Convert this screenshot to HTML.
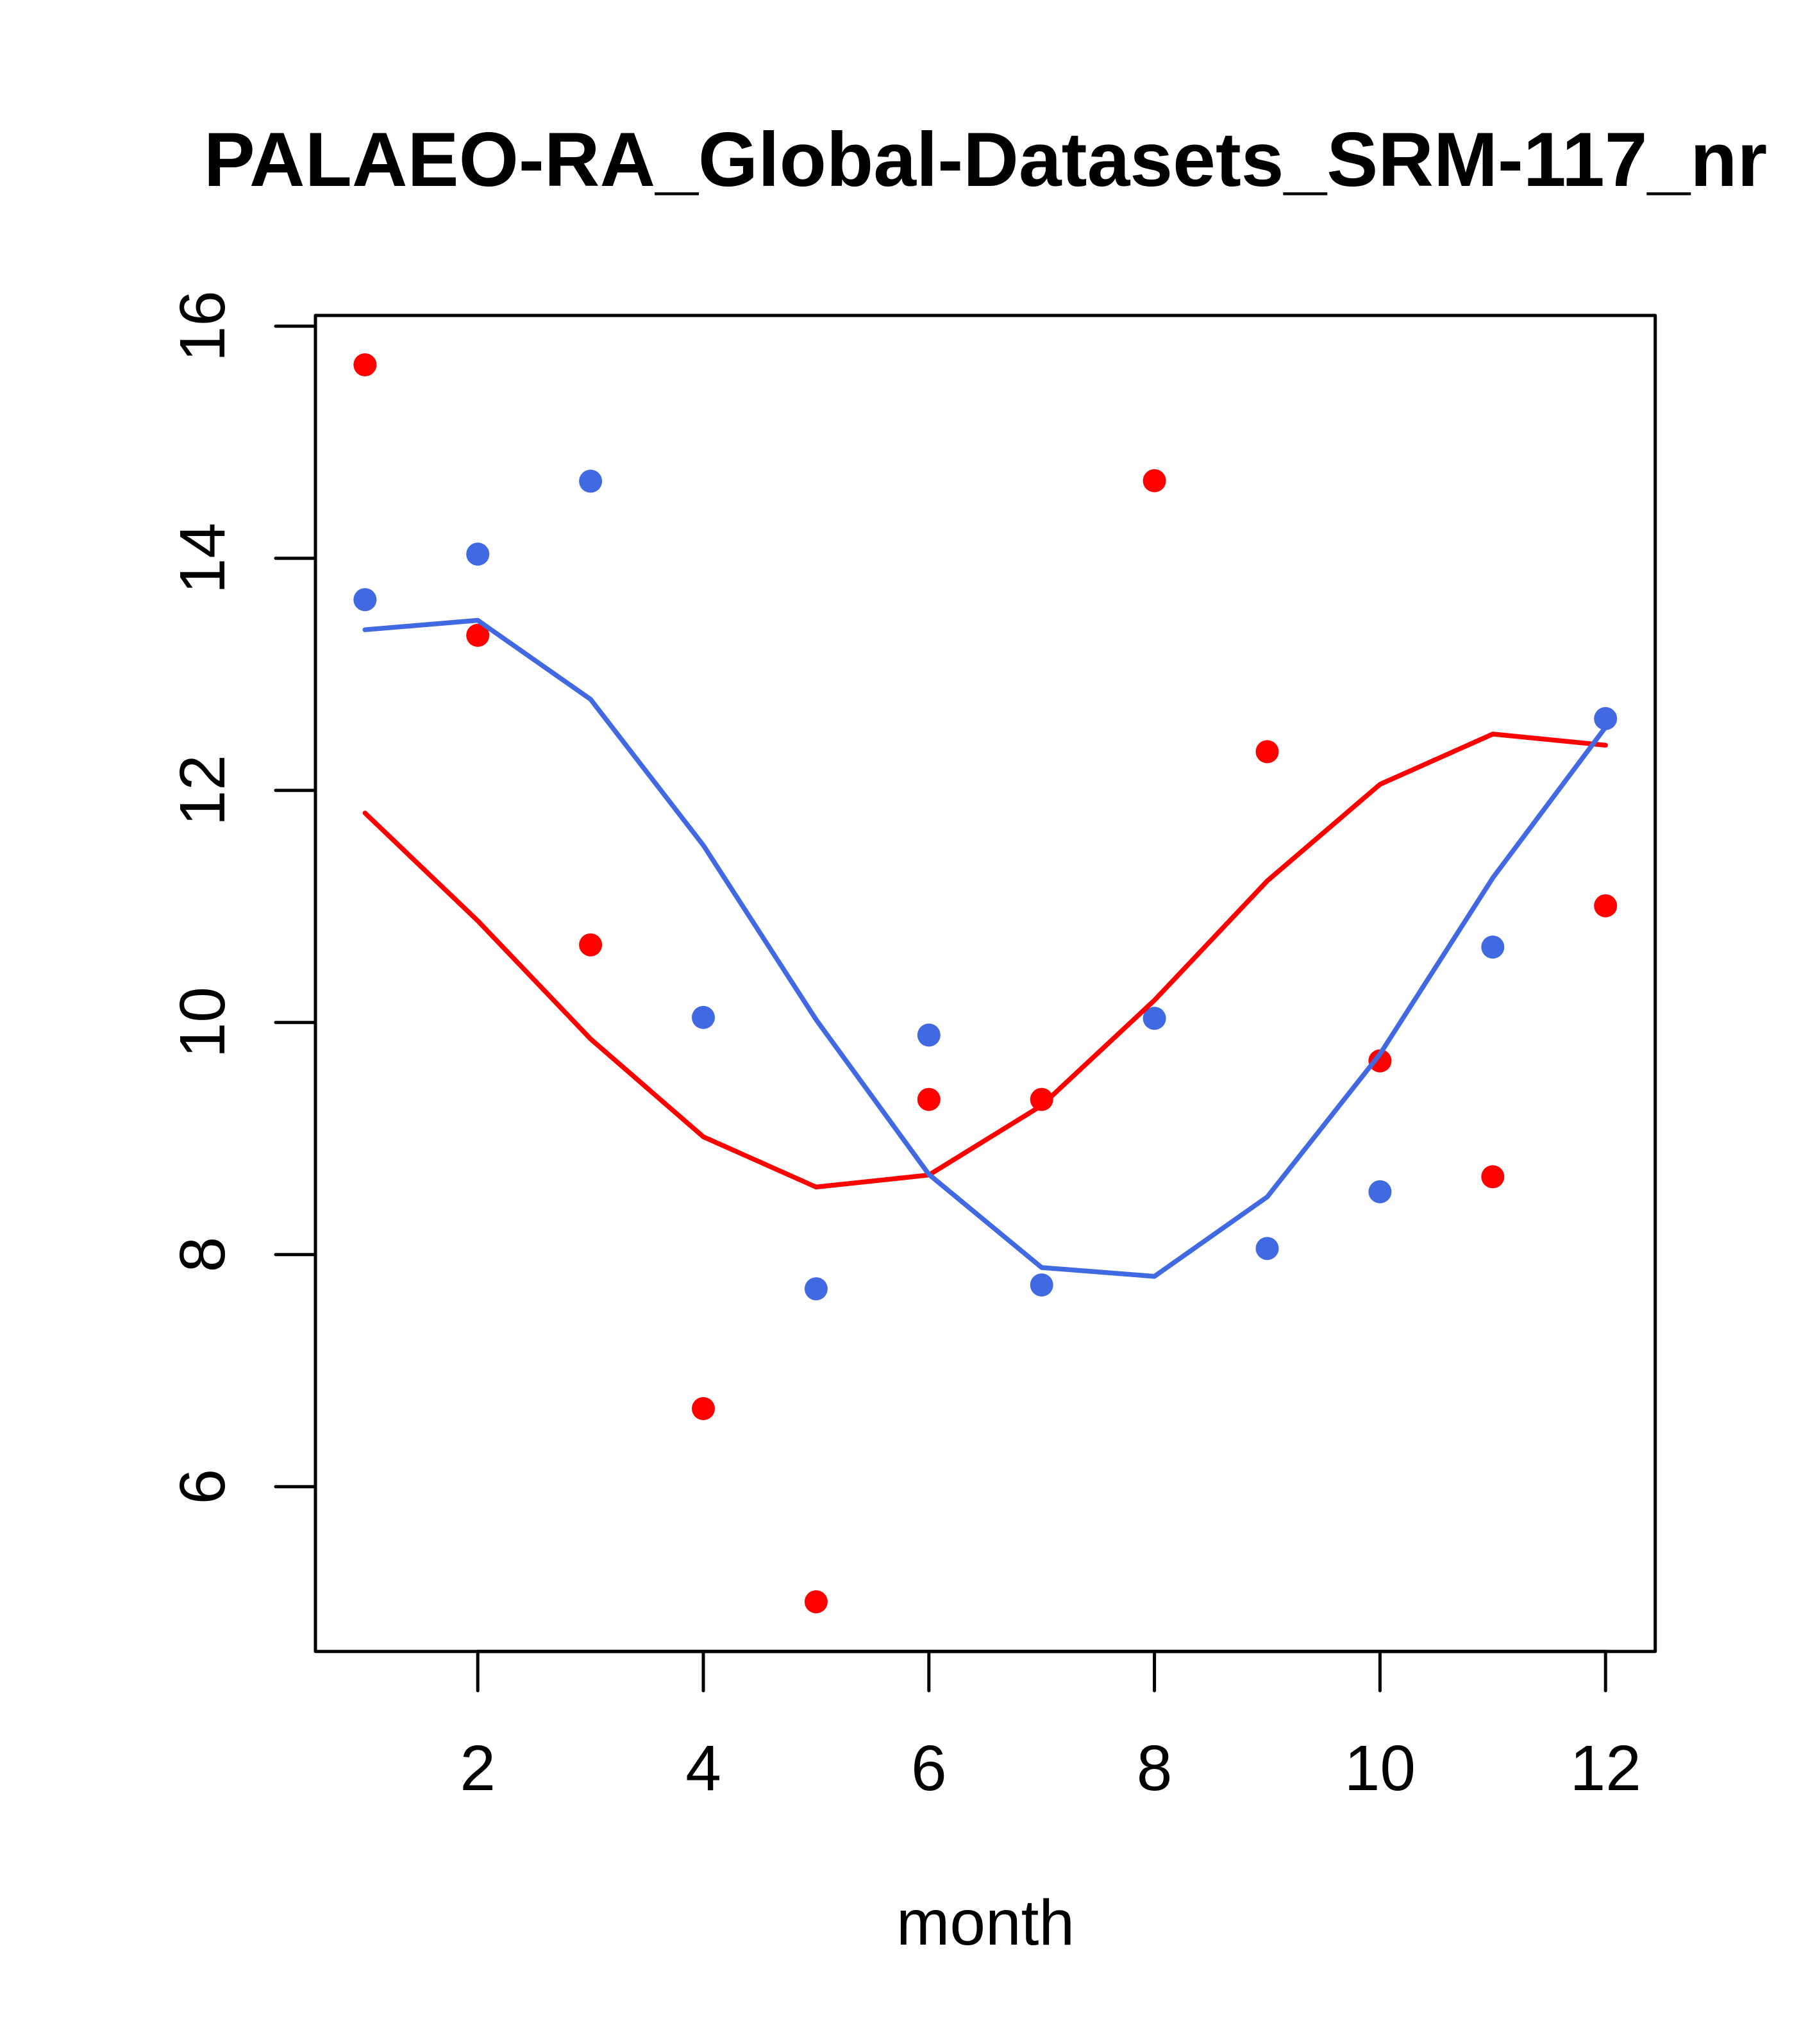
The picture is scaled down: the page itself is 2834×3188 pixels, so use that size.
<!DOCTYPE html>
<html>
<head>
<meta charset="utf-8">
<style>
  html, body { margin: 0; padding: 0; background: #ffffff; }
  svg { display: block; }
  text { font-family: "Liberation Sans", Arial, Helvetica, sans-serif; fill: #000; }
</style>
</head>
<body>
<svg width="2834" height="3188" viewBox="0 0 2834 3188" xmlns="http://www.w3.org/2000/svg">
  <rect x="0" y="0" width="2834" height="3188" fill="#ffffff"/>

  <!-- Title -->
  <text x="1537" y="290" font-size="120" font-weight="bold" text-anchor="middle">PALAEO-RA_Global-Datasets_SRM-117_nr</text>

  <!-- Plot box -->
  <rect x="492" y="492" width="2089.7" height="2083.7" fill="none" stroke="#000" stroke-width="5" stroke-linejoin="round"/>

  <!-- Y axis ticks -->
  <g stroke="#000" stroke-width="5" stroke-linecap="round" fill="none">
    <line x1="492" y1="508.7" x2="492" y2="2318.7"/>
    <line x1="430" y1="508.7" x2="492" y2="508.7"/>
    <line x1="430" y1="870.7" x2="492" y2="870.7"/>
    <line x1="430" y1="1232.7" x2="492" y2="1232.7"/>
    <line x1="430" y1="1594.7" x2="492" y2="1594.7"/>
    <line x1="430" y1="1956.7" x2="492" y2="1956.7"/>
    <line x1="430" y1="2318.7" x2="492" y2="2318.7"/>
  </g>
  <!-- X axis ticks -->
  <g stroke="#000" stroke-width="5" stroke-linecap="round" fill="none">
    <line x1="745.2" y1="2575.7" x2="2504.2" y2="2575.7"/>
    <line x1="745.2" y1="2575.7" x2="745.2" y2="2637"/>
    <line x1="1097.0" y1="2575.7" x2="1097.0" y2="2637"/>
    <line x1="1448.8" y1="2575.7" x2="1448.8" y2="2637"/>
    <line x1="1800.6" y1="2575.7" x2="1800.6" y2="2637"/>
    <line x1="2152.4" y1="2575.7" x2="2152.4" y2="2637"/>
    <line x1="2504.2" y1="2575.7" x2="2504.2" y2="2637"/>
  </g>

  <!-- Y tick labels -->
  <g font-size="100" text-anchor="middle">
    <text transform="translate(350,508.7) rotate(-90)">16</text>
    <text transform="translate(350,870.7) rotate(-90)">14</text>
    <text transform="translate(350,1232.7) rotate(-90)">12</text>
    <text transform="translate(350,1594.7) rotate(-90)">10</text>
    <text transform="translate(350,1956.7) rotate(-90)">8</text>
    <text transform="translate(350,2318.7) rotate(-90)">6</text>
  </g>

  <!-- X tick labels -->
  <g font-size="100" text-anchor="middle">
    <text x="745.2" y="2792">2</text>
    <text x="1097.0" y="2792">4</text>
    <text x="1448.8" y="2792">6</text>
    <text x="1800.6" y="2792">8</text>
    <text x="2152.4" y="2792">10</text>
    <text x="2504.2" y="2792">12</text>
  </g>

  <!-- X axis title -->
  <text x="1537" y="3033" font-size="100" text-anchor="middle">month</text>

  <!-- Red points -->
  <g fill="#ff0000">
    <circle cx="569.3" cy="569.0" r="18"/>
    <circle cx="745.2" cy="990.9" r="18"/>
    <circle cx="921.1" cy="1473.7" r="18"/>
    <circle cx="1097.0" cy="2197.0" r="18"/>
    <circle cx="1272.9" cy="2498.3" r="18"/>
    <circle cx="1448.8" cy="1714.8" r="18"/>
    <circle cx="1624.7" cy="1714.8" r="18"/>
    <circle cx="1800.6" cy="749.8" r="18"/>
    <circle cx="1976.5" cy="1172.4" r="18"/>
    <circle cx="2152.4" cy="1654.6" r="18"/>
    <circle cx="2328.3" cy="1835.4" r="18"/>
    <circle cx="2504.2" cy="1412.8" r="18"/>
  </g>

  <!-- Blue points -->
  <g fill="#4169e1">
    <circle cx="569.3" cy="935.3" r="18"/>
    <circle cx="745.2" cy="864.3" r="18"/>
    <circle cx="921.1" cy="750.5" r="18"/>
    <circle cx="1097.0" cy="1586.9" r="18"/>
    <circle cx="1272.9" cy="2010.1" r="18"/>
    <circle cx="1448.8" cy="1614.4" r="18"/>
    <circle cx="1624.7" cy="2004.1" r="18"/>
    <circle cx="1800.6" cy="1588.3" r="18"/>
    <circle cx="1976.5" cy="1947.2" r="18"/>
    <circle cx="2152.4" cy="1858.8" r="18"/>
    <circle cx="2328.3" cy="1477.1" r="18"/>
    <circle cx="2504.2" cy="1120.8" r="18"/>
  </g>

  <!-- Red line -->
  <polyline fill="none" stroke="#ff0000" stroke-width="7.5" stroke-linecap="round" stroke-linejoin="round"
    points="569.3,1268.1 745.2,1436.2 921.1,1620.4 1097.0,1773.1 1272.9,1851.4 1448.8,1832.7 1624.7,1724.2 1800.6,1560.1 1976.5,1374.0 2152.4,1223.3 2328.3,1144.9 2504.2,1162.3"/>

  <!-- Blue line -->
  <polyline fill="none" stroke="#4169e1" stroke-width="7.5" stroke-linecap="round" stroke-linejoin="round"
    points="569.3,982.2 745.2,967.5 921.1,1090.7 1097.0,1318.4 1272.9,1590.3 1448.8,1831.7 1624.7,1977.0 1800.6,1990.7 1976.5,1866.8 2152.4,1644.0 2328.3,1369.3 2504.2,1134.2"/>
</svg>
</body>
</html>
